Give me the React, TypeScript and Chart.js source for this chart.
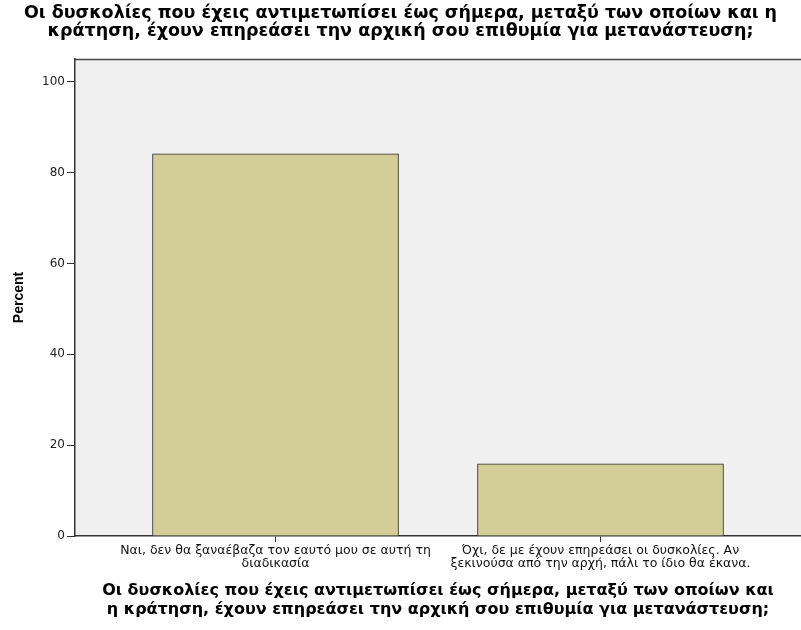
import React, { useEffect, useRef } from "react";
import { Chart, registerables } from "chart.js";

Chart.register(...registerables);

const titleLines = [
  "Οι δυσκολίες που έχεις αντιμετωπίσει έως σήμερα, μεταξύ των οποίων και η",
  "κράτηση, έχουν επηρεάσει την αρχική σου επιθυμία για μετανάστευση;",
];
const xTitleLines = [
  "Οι δυσκολίες που έχεις αντιμετωπίσει έως σήμερα, μεταξύ των οποίων και",
  "η κράτηση, έχουν επηρεάσει την αρχική σου επιθυμία για μετανάστευση;",
];
const categories = [
  ["Ναι, δεν θα ξαναέβαζα τον εαυτό μου σε αυτή τη", "διαδικασία"],
  ["Όχι, δε με έχουν επηρεάσει οι δυσκολίες. Αν", "ξεκινούσα από την αρχή, πάλι το ίδιο θα έκανα."],
];
const categoryPositions = [1, 2];
const percents = [84.1, 15.9];
const yTicks = [0, 20, 40, 60, 80, 100];
const yLabel = "Percent";

const SANS = "'DejaVu Sans', sans-serif";
const ARIAL = "'Liberation Sans', Arial, sans-serif";

const bgPlugin = {
  id: "plotBg",
  beforeDraw(chart: any) {
    const { ctx, chartArea } = chart;
    ctx.save();
    ctx.fillStyle = "#F0F0F0";
    ctx.fillRect(chartArea.left, chartArea.top, chartArea.right - chartArea.left, chartArea.bottom - chartArea.top);
    ctx.strokeStyle = "#444";
    ctx.lineWidth = 1.5;
    ctx.beginPath();
    ctx.moveTo(chartArea.left, chartArea.top + 0.5);
    ctx.lineTo(chartArea.right, chartArea.top + 0.5);
    ctx.stroke();
    ctx.restore();
  },
};

export default function App() {
  const ref = useRef<HTMLCanvasElement>(null);
  useEffect(() => {
    if (!ref.current) return;
    const chart = new Chart(ref.current, {
      type: "bar",
      data: {
        datasets: [
          {
            data: categoryPositions.map((x, i) => ({ x, y: percents[i] })),
            backgroundColor: "#D3CE97",
            borderColor: "#2A2A2A",
            borderWidth: 1,
            barThickness: 246,
          } as any,
        ],
      },
      options: {
        responsive: false,
        animation: false,
        events: [],
        layout: { padding: 0 },
        plugins: {
          legend: { display: false },
          tooltip: { enabled: false },
          title: {
            display: true,
            text: titleLines,
            color: "#000",
            font: { family: SANS, size: 17.5, weight: "bold", lineHeight: 18 / 17.5 },
            padding: { top: 4, bottom: 19 },
          },
        },
        scales: {
          x: {
            type: "linear",
            offset: false,
            min: 0.383,
            max: 2.617,
            afterBuildTicks: (s: any) => {
              s.ticks = categoryPositions.map((v) => ({ value: v }));
            },
            afterFit: (s: any) => {
              s.height = 94;
            },
            grid: { offset: false, drawOnChartArea: false, drawTicks: true, tickLength: 6, color: "#333" },
            border: { display: true, color: "#333", width: 1.5 },
            ticks: {
              color: "#111",
              font: { family: SANS, size: 12.5, lineHeight: 13 / 12.5 },
              padding: 2,
              maxRotation: 0,
              autoSkip: false,
              callback: (v: any) => {
                const i = categoryPositions.indexOf(Number(v));
                return i >= 0 ? categories[i] : "";
              },
            },
            title: {
              display: true,
              text: xTitleLines,
              color: "#000",
              font: { family: SANS, size: 16, weight: "bold", lineHeight: 19 / 16 },
              padding: { top: 0, bottom: 11 },
            },
          } as any,
          y: {
            type: "linear",
            min: 0,
            max: 105,
            afterBuildTicks: (s: any) => {
              s.ticks = yTicks.map((v) => ({ value: v }));
            },
            afterFit: (s: any) => {
              s.width = 75;
            },
            grid: { drawOnChartArea: false, drawTicks: true, tickLength: 8, color: "#333" },
            border: { display: true, color: "#333", width: 1.5 },
            ticks: {
              color: "#222",
              font: { family: SANS, size: 12 },
              padding: 2,
            },
            title: {
              display: true,
              text: yLabel,
              color: "#000",
              font: { family: ARIAL, size: 14, weight: "bold" },
              padding: { top: 11, bottom: 0 },
            },
          } as any,
        },
      },
      plugins: [bgPlugin],
    } as any);
    return () => chart.destroy();
  }, []);
  return (
    <div style={{ position: "absolute", left: 0, top: 0, width: 801, height: 630, background: "#fff" }}>
      <canvas ref={ref} width={801} height={630} />
    </div>
  );
}
